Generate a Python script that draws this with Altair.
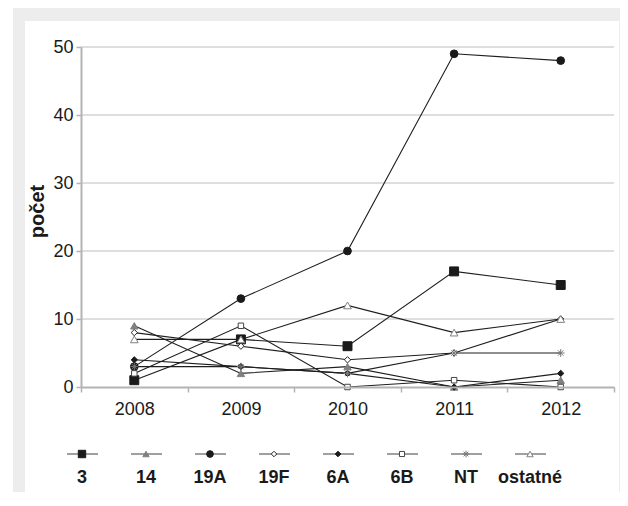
import altair as alt
import pandas as pd

years = ["2008", "2009", "2010", "2011", "2012"]
series = ["3", "14", "19A", "19F", "6A", "6B", "NT", "ostatné"]
v3 = [1, 7, 6, 17, 15]
v14 = [9, 2, 3, 0, 1]
v19A = [3, 13, 20, 49, 48]
v19F = [8, 6, 4, 5, 10]
v6A = [4, 3, 2, 0, 2]
v6B = [2, 9, 0, 1, 0]
vNT = [3, 3, 2, 5, 5]
vOst = [7, 7, 12, 8, 10]
y_ticks = [0, 10, 20, 30, 40, 50]
y_title = "počet"

values = {"3": v3, "14": v14, "19A": v19A, "19F": v19F, "6A": v6A,
          "6B": v6B, "NT": vNT, "ostatné": vOst}
rows = []
for s in series:
    for yr, v in zip(years, values[s]):
        rows.append({"series": s, "year": yr, "value": v})
df = pd.DataFrame(rows)
grid_df = pd.DataFrame({"value": y_ticks[1:]})
leg_df = pd.DataFrame({"series": series})
one = pd.DataFrame({"a": [0]})

FONT = "Liberation Sans"
W, H = 533, 340

asterisk = "M-1,0L1,0M0,-1L0,1M-0.7,-0.7L0.7,0.7M-0.7,0.7L0.7,-0.7"
shape_scale = alt.Scale(domain=series, range=["square", "triangle-up", "circle", "diamond",
                                              "diamond", "square", asterisk, "triangle-up"])
fill_scale = alt.Scale(domain=series, range=["#1a1a1a", "#808080", "#1a1a1a", "#ffffff",
                                             "#1a1a1a", "#ffffff", "#ffffff", "#ffffff"])
stroke_scale = alt.Scale(domain=series, range=["#1a1a1a", "#808080", "#1a1a1a", "#222222",
                                               "#1a1a1a", "#444444", "#777777", "#808080"])
size_scale = alt.Scale(type="ordinal", domain=series, range=[80, 55, 60, 40, 40, 30, 60, 60])
leg_size_scale = alt.Scale(type="ordinal", domain=series, range=[55, 40, 45, 30, 32, 26, 45, 40])

X = alt.X("year:O", scale=alt.Scale(type="band", paddingInner=0, paddingOuter=0),
          axis=alt.Axis(title=None, labelAngle=0, tickBand="extent", grid=False,
                        domainColor="#b3b3b3", domainWidth=2, tickColor="#b3b3b3",
                        tickWidth=1.5, tickSize=5, labelPadding=8, labelFontSize=18,
                        labelFont=FONT, labelColor="#1a1a1a", zindex=1))
Y = alt.Y("value:Q", scale=alt.Scale(domain=[0, 50], nice=False),
          axis=alt.Axis(values=y_ticks, title=y_title, grid=False,
                        domainColor="#b3b3b3", domainWidth=2, tickColor="#b3b3b3",
                        tickWidth=1.5, tickSize=5, labelPadding=3, labelFontSize=18,
                        labelFont=FONT, labelColor="#1a1a1a",
                        titleFont=FONT, titleFontSize=20, titleFontWeight="bold",
                        titleColor="#1a1a1a", titleAngle=-90, titleX=-44, titleY=164,
                        titleAlign="center", titleBaseline="middle", zindex=1))

gray_bg = alt.Chart(one).mark_rect(color="#ededed").encode(
    x=alt.value(-68), x2=alt.value(547), y=alt.value(-39), y2=alt.value(460))
white_bg = alt.Chart(one).mark_rect(color="#ffffff").encode(
    x=alt.value(-56), x2=alt.value(538), y=alt.value(-26), y2=alt.value(456))

grid = alt.Chart(grid_df).mark_rule(color="#bdbdbd", strokeWidth=1).encode(y=Y)

lines = alt.Chart(df).mark_line(color="#1e1e1e", strokeWidth=1.1).encode(
    x=X, y=Y, detail="series:N")

points = alt.Chart(df).mark_point(filled=True, opacity=1, strokeWidth=1).encode(
    x=X, y=Y,
    shape=alt.Shape("series:N", scale=shape_scale, legend=None),
    fill=alt.Fill("series:N", scale=fill_scale, legend=None),
    stroke=alt.Stroke("series:N", scale=stroke_scale, legend=None),
    size=alt.Size("series:N", scale=size_scale, legend=None),
)

main = alt.layer(grid, lines, points)

LX = alt.X("series:N", scale=alt.Scale(type="point", domain=series, range=[1, 449], padding=0),
           axis=None, sort=series)

leg_lines = alt.Chart(leg_df).mark_rule(color="#808080", strokeWidth=1.5,
                                         xOffset=-15, x2Offset=16).encode(
    x=LX, x2="series:N", y=alt.value(407))

leg_points = alt.Chart(leg_df).mark_point(filled=True, opacity=1, strokeWidth=1).encode(
    x=LX, y=alt.value(407),
    shape=alt.Shape("series:N", scale=shape_scale, legend=None),
    fill=alt.Fill("series:N", scale=fill_scale, legend=None),
    stroke=alt.Stroke("series:N", scale=stroke_scale, legend=None),
    size=alt.Size("series:N", scale=leg_size_scale, legend=None),
)

leg_text = alt.Chart(leg_df).mark_text(font=FONT, fontSize=18, fontWeight="bold",
                                       color="#1a1a1a", baseline="middle").encode(
    x=LX, y=alt.value(431), text="series:N")

legend = alt.layer(leg_lines, leg_points, leg_text)

chart = alt.layer(
    gray_bg, white_bg, main, legend
).resolve_scale(x="independent", size="independent").properties(
    width=W, height=H,
    padding={"left": 73, "top": 39, "right": 6, "bottom": 105},
    autosize=alt.AutoSizeParams(type="none"),
    background="#ffffff",
).configure_view(stroke=None)

chart.save("out.html", embed_options={"renderer": "svg", "actions": False})
